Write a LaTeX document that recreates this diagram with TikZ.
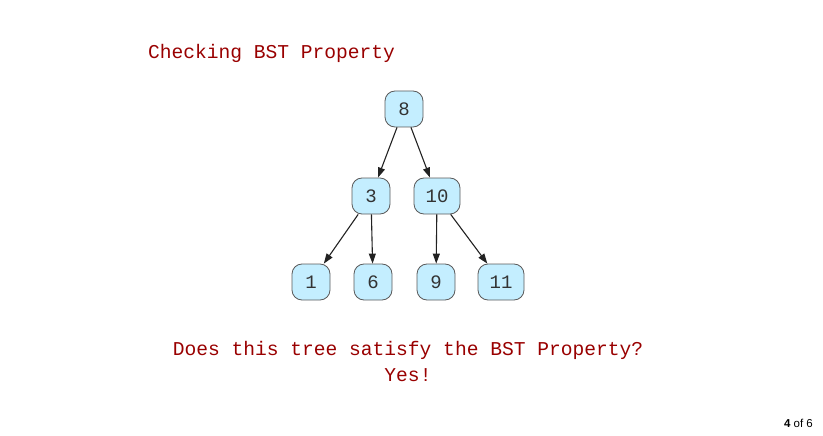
\documentclass[tikz,border=0pt]{standalone}
\usepackage{fontspec}
\setmainfont{Liberation Sans}
\newfontfamily\cour{Liberation Mono}
\usetikzlibrary{arrows.meta}
\definecolor{txtred}{HTML}{990000}
\definecolor{nodefill}{HTML}{C4EEFF}
\definecolor{nodeline}{HTML}{5A5A5A}
\definecolor{edgecol}{HTML}{222222}
\begin{document}
\begin{tikzpicture}[x=1pt,y=-1pt,
  tnode/.style={draw=nodeline,fill=nodefill,line width=0.8pt,rounded corners=10pt,
    minimum height=36pt,inner sep=0pt,text=black!80,font=\cour\fontsize{19}{19}\selectfont},
  onedig/.style={tnode,minimum width=38pt},
  twodig/.style={tnode,minimum width=46pt},
  edge/.style={draw=edgecol,line width=1.1pt,-{Triangle[length=10pt,width=7pt]}},
  label/.style={text=txtred,font=\cour\fontsize{19.6}{26}\selectfont,inner sep=0pt,anchor=base}
]
\useasboundingbox (0,0) rectangle (823,436);
\node[label] (title) at (271.5,59) {Checking BST Property};
\node[onedig] (n8) at (404,109) {8};
\node[onedig] (n3) at (371,196) {3};
\node[twodig] (n10) at (437,196) {10};
\node[onedig] (n1) at (311,282) {1};
\node[onedig] (n6) at (373,282) {6};
\node[onedig] (n9) at (436,282) {9};
\node[twodig] (n11) at (501,282) {11};
\draw[edge] (n8) -- (n3);
\draw[edge] (n8) -- (n10);
\draw[edge] (n3) -- (n1);
\draw[edge] (n3) -- (n6);
\draw[edge] (n10) -- (n9);
\draw[edge] (n10) -- (n11);
\node[label] (q) at (408,355) {Does this tree satisfy the BST Property?};
\node[label] (a) at (408,381) {Yes!};
\node[anchor=base east,inner sep=0pt,font=\fontsize{11.5}{13}\selectfont] (pg) at (813,427) {\textbf{4} of 6};
\end{tikzpicture}
\end{document}
